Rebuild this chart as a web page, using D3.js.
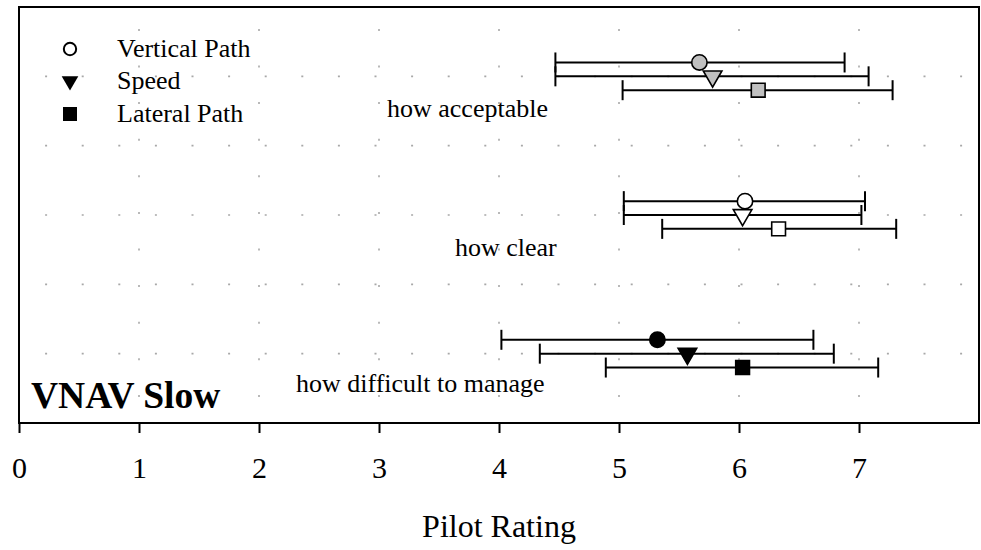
<!DOCTYPE html>
<html>
<head>
<meta charset="utf-8">
<script src="https://cdn.jsdelivr.net/npm/d3@7"></script>
<style>
  html, body { margin: 0; padding: 0; background: #fff; }
  svg { display: block; }
  text { font-family: "Liberation Serif", "Times New Roman", serif; fill: #000; }
</style>
</head>
<body>
<svg id="chart" width="981" height="550"></svg>
<script>
// Rated questions, bottom row to top row
const measures = ["how difficult to manage", "how clear", "how acceptable"];
const measureRows = [1, 3, 5];
const measureFills = ["#000000", "#ffffff", "#c0c0c0"];

// Display elements rated
const series = ["Vertical Path", "Speed", "Lateral Path"];

// Mean rating and range for each element, per question (same order as measures)
const verticalMean = [5.32, 6.05, 5.67];
const verticalLow  = [4.02, 5.04, 4.47];
const verticalHigh = [6.62, 7.05, 6.88];

const speedMean = [5.57, 6.03, 5.78];
const speedLow  = [4.34, 5.04, 4.47];
const speedHigh = [6.79, 7.02, 7.08];

const lateralMean = [6.03, 6.33, 6.16];
const lateralLow  = [4.89, 5.36, 5.03];
const lateralHigh = [7.16, 7.31, 7.28];

const xTicks = [0, 1, 2, 3, 4, 5, 6, 7];
const xTitle = "Pilot Rating";
const panelTitle = "VNAV Slow";

// ---- layout ----
const svg = d3.select("#chart");
const plotLeft = 19, plotRight = 979, plotTop = 7, plotBottom = 423;

const x = d3.scaleLinear().domain([0, 8]).range([plotLeft, plotRight]);
const y = d3.scaleLinear().domain([0, 6]).range([plotBottom, plotTop]);

// vertical stagger of the three series inside a question row
const seriesOffset = [0.2, 0, -0.2];
const symbols = [d3.symbolCircle, d3.symbolTriangle, d3.symbolSquare];
const symbolSizes = [185, 150, 190];
const symbolRotate = [0, 180, 0];

const rows = [];
const means = [verticalMean, speedMean, lateralMean];
const lows = [verticalLow, speedLow, lateralLow];
const highs = [verticalHigh, speedHigh, lateralHigh];
measures.forEach((m, i) => {
  series.forEach((s, j) => {
    rows.push({
      measure: m, series: s, si: j,
      yv: measureRows[i] + seriesOffset[j],
      mean: means[j][i], low: lows[j][i], high: highs[j][i],
      fill: measureFills[i]
    });
  });
});

// ---- dotted grid ----
const grid = svg.append("g").attr("stroke", "#a8a8a8").attr("stroke-width", 1.6)
  .attr("stroke-dasharray", "2,34.6").attr("stroke-dashoffset", 10.5);
grid.selectAll("line.v").data(d3.range(1, 8)).join("line")
  .attr("x1", d => x(d)).attr("x2", d => x(d))
  .attr("y1", y(0)).attr("y2", y(6));
grid.selectAll("line.h").data(d3.range(1, 6)).join("line")
  .attr("x1", x(0)).attr("x2", x(8))
  .attr("y1", d => y(d)).attr("y2", d => y(d));

// ---- frame ----
svg.append("rect")
  .attr("x", plotLeft).attr("y", plotTop)
  .attr("width", plotRight - plotLeft).attr("height", plotBottom - plotTop)
  .attr("fill", "none").attr("stroke", "#000").attr("stroke-width", 2);

// ---- x axis ----
const axis = svg.append("g")
  .attr("transform", `translate(0,${plotBottom})`)
  .call(d3.axisBottom(x).tickValues(xTicks).tickSize(10).tickFormat(d3.format("d")));
axis.select(".domain").remove();
axis.selectAll(".tick line").attr("stroke", "#000").attr("stroke-width", 2);
axis.selectAll(".tick text")
  .attr("y", 55).attr("dy", 0)
  .style("font-family", '"Liberation Serif", "Times New Roman", serif')
  .style("font-size", "30px").attr("fill", "#000");

svg.append("text")
  .attr("x", x(4)).attr("y", 537)
  .attr("text-anchor", "middle")
  .style("font-size", "32px")
  .text(xTitle);

// ---- range bars ----
const bars = svg.append("g").attr("stroke", "#000").attr("stroke-width", 2);
bars.selectAll("line.range").data(rows).join("line")
  .attr("x1", d => x(d.low)).attr("x2", d => x(d.high))
  .attr("y1", d => y(d.yv)).attr("y2", d => y(d.yv));
bars.selectAll("line.capL").data(rows).join("line")
  .attr("x1", d => x(d.low)).attr("x2", d => x(d.low))
  .attr("y1", d => y(d.yv) - 10).attr("y2", d => y(d.yv) + 10);
bars.selectAll("line.capH").data(rows).join("line")
  .attr("x1", d => x(d.high)).attr("x2", d => x(d.high))
  .attr("y1", d => y(d.yv) - 10).attr("y2", d => y(d.yv) + 10);

// ---- mean markers ----
svg.append("g").selectAll("path").data(rows).join("path")
  .attr("d", d => d3.symbol().type(symbols[d.si]).size(symbolSizes[d.si])())
  .attr("transform", d => `translate(${x(d.mean)},${y(d.yv)}) rotate(${symbolRotate[d.si]})`)
  .attr("fill", d => d.fill)
  .attr("stroke", "#000").attr("stroke-width", 1.6);

// ---- question labels ----
const labelStart = [296, 455, 387];
const labelBaselineShift = [38, 41, 41];
svg.append("g").selectAll("text").data(measures).join("text")
  .attr("x", (d, i) => labelStart[i])
  .attr("y", (d, i) => y(measureRows[i]) + labelBaselineShift[i])
  .style("font-size", "26px")
  .text(d => d);

// ---- legend ----
const legend = svg.append("g");
const legendBase = [57, 89, 122];
const legendSizes = [120, 120, 196];
legend.selectAll("path").data(series).join("path")
  .attr("d", (d, i) => d3.symbol().type(symbols[i]).size(legendSizes[i])())
  .attr("transform", (d, i) => `translate(70,${legendBase[i] - 8}) rotate(${symbolRotate[i]})`)
  .attr("fill", (d, i) => i === 0 ? "#fff" : "#000")
  .attr("stroke", (d, i) => i === 0 ? "#000" : "none")
  .attr("stroke-width", 2);
legend.selectAll("text").data(series).join("text")
  .attr("x", 117).attr("y", (d, i) => legendBase[i])
  .style("font-size", "26px")
  .text(d => d);

// ---- panel title ----
svg.append("text")
  .attr("x", 31).attr("y", 408)
  .style("font-size", "37.5px").style("font-weight", "bold")
  .text(panelTitle);
</script>
</body>
</html>
